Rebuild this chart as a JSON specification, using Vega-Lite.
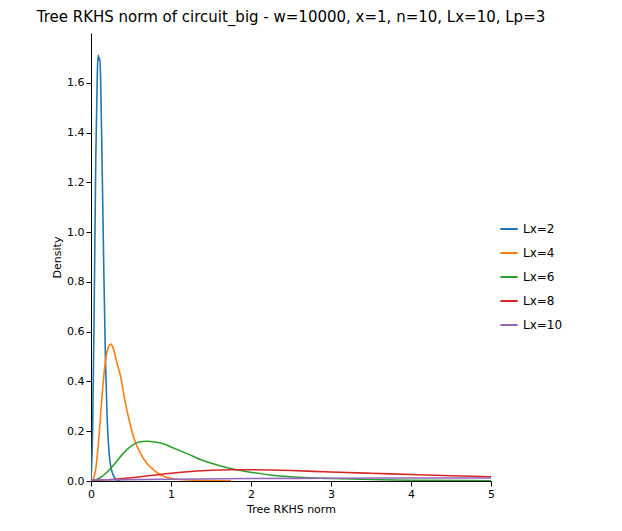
{
"$schema":"https://vega.github.io/schema/vega-lite/v6.json",
"width":400,"height":448,
"padding":{"left":36,"top":10,"right":5,"bottom":5},
"title":{"text":"Tree RKHS norm of circuit_big - w=10000, x=1, n=10, Lx=10, Lp=3","fontSize":15,"fontWeight":"normal","font":"DejaVu Sans","color":"black","offset":8},
"config":{"view":{"stroke":null},"axis":{"labelFont":"DejaVu Sans","titleFont":"DejaVu Sans","labelFontSize":11,"titleFontSize":11,"titleFontWeight":"normal","grid":false,"domainColor":"black","tickColor":"black","labelColor":"black","titleColor":"black"},"legend":{"labelFont":"DejaVu Sans","labelFontSize":12}},
"data":{"values":[
{"s":"Lx=2","x":0.0,"y":0.0},{"s":"Lx=2","x":0.02,"y":0.2},{"s":"Lx=2","x":0.04,"y":0.7},{"s":"Lx=2","x":0.06,"y":1.3},{"s":"Lx=2","x":0.08,"y":1.65},{"s":"Lx=2","x":0.09,"y":1.71},{"s":"Lx=2","x":0.1,"y":1.69},{"s":"Lx=2","x":0.11,"y":1.7},{"s":"Lx=2","x":0.12,"y":1.62},{"s":"Lx=2","x":0.14,"y":1.25},{"s":"Lx=2","x":0.16,"y":0.85},{"s":"Lx=2","x":0.18,"y":0.5},{"s":"Lx=2","x":0.2,"y":0.27},{"s":"Lx=2","x":0.23,"y":0.1},{"s":"Lx=2","x":0.27,"y":0.03},{"s":"Lx=2","x":0.32,"y":0.005},{"s":"Lx=2","x":0.37,"y":0.0},
{"s":"Lx=4","x":0.02,"y":0.0},{"s":"Lx=4","x":0.06,"y":0.05},{"s":"Lx=4","x":0.1,"y":0.18},{"s":"Lx=4","x":0.14,"y":0.35},{"s":"Lx=4","x":0.18,"y":0.48},{"s":"Lx=4","x":0.22,"y":0.54},{"s":"Lx=4","x":0.25,"y":0.55},{"s":"Lx=4","x":0.28,"y":0.53},{"s":"Lx=4","x":0.32,"y":0.48},{"s":"Lx=4","x":0.37,"y":0.42},{"s":"Lx=4","x":0.42,"y":0.33},{"s":"Lx=4","x":0.48,"y":0.24},{"s":"Lx=4","x":0.55,"y":0.16},{"s":"Lx=4","x":0.62,"y":0.11},{"s":"Lx=4","x":0.7,"y":0.07},{"s":"Lx=4","x":0.8,"y":0.04},{"s":"Lx=4","x":0.9,"y":0.02},{"s":"Lx=4","x":1.05,"y":0.008},{"s":"Lx=4","x":1.3,"y":0.003},{"s":"Lx=4","x":1.75,"y":0.001},
{"s":"Lx=6","x":0.0,"y":0.0},{"s":"Lx=6","x":0.1,"y":0.01},{"s":"Lx=6","x":0.2,"y":0.035},{"s":"Lx=6","x":0.3,"y":0.07},{"s":"Lx=6","x":0.4,"y":0.11},{"s":"Lx=6","x":0.5,"y":0.14},{"s":"Lx=6","x":0.6,"y":0.157},{"s":"Lx=6","x":0.7,"y":0.16},{"s":"Lx=6","x":0.8,"y":0.157},{"s":"Lx=6","x":0.9,"y":0.15},{"s":"Lx=6","x":1.0,"y":0.137},{"s":"Lx=6","x":1.2,"y":0.11},{"s":"Lx=6","x":1.4,"y":0.082},{"s":"Lx=6","x":1.6,"y":0.062},{"s":"Lx=6","x":1.8,"y":0.046},{"s":"Lx=6","x":2.0,"y":0.035},{"s":"Lx=6","x":2.3,"y":0.022},{"s":"Lx=6","x":2.6,"y":0.015},{"s":"Lx=6","x":3.0,"y":0.01},{"s":"Lx=6","x":3.5,"y":0.006},{"s":"Lx=6","x":4.0,"y":0.003},{"s":"Lx=6","x":5.0,"y":0.001},
{"s":"Lx=8","x":0.0,"y":0.002},{"s":"Lx=8","x":0.25,"y":0.006},{"s":"Lx=8","x":0.5,"y":0.013},{"s":"Lx=8","x":0.75,"y":0.022},{"s":"Lx=8","x":1.0,"y":0.031},{"s":"Lx=8","x":1.25,"y":0.038},{"s":"Lx=8","x":1.5,"y":0.043},{"s":"Lx=8","x":1.75,"y":0.045},{"s":"Lx=8","x":2.0,"y":0.045},{"s":"Lx=8","x":2.5,"y":0.042},{"s":"Lx=8","x":3.0,"y":0.036},{"s":"Lx=8","x":3.5,"y":0.031},{"s":"Lx=8","x":4.0,"y":0.026},{"s":"Lx=8","x":4.5,"y":0.021},{"s":"Lx=8","x":5.0,"y":0.017},
{"s":"Lx=10","x":0.0,"y":0.004},{"s":"Lx=10","x":1.0,"y":0.007},{"s":"Lx=10","x":2.0,"y":0.01},{"s":"Lx=10","x":3.0,"y":0.011},{"s":"Lx=10","x":4.0,"y":0.012},{"s":"Lx=10","x":5.0,"y":0.012}
]},
"mark":{"type":"line","strokeWidth":1.6,"interpolate":"monotone","clip":true},
"encoding":{
"x":{"field":"x","type":"quantitative","title":"Tree RKHS norm","scale":{"domain":[0,5],"nice":false},"axis":{"values":[0,1,2,3,4,5],"labelFlush":false}},
"y":{"field":"y","type":"quantitative","title":"Density","scale":{"domain":[0,1.8],"nice":false},"axis":{"values":[0,0.2,0.4,0.6,0.8,1.0,1.2,1.4,1.6],"format":".1f","labelFlush":false}},
"color":{"field":"s","type":"nominal","sort":["Lx=2","Lx=4","Lx=6","Lx=8","Lx=10"],"scale":{"range":["#1f77b4","#ff7f0e","#2ca02c","#d62728","#9467bd"]},"legend":{"title":null,"symbolType":"stroke","symbolStrokeWidth":2,"symbolSize":300,"labelPadding":8,"rowPadding":8,"orient":"none","legendX":408,"legendY":186}}
}
}
